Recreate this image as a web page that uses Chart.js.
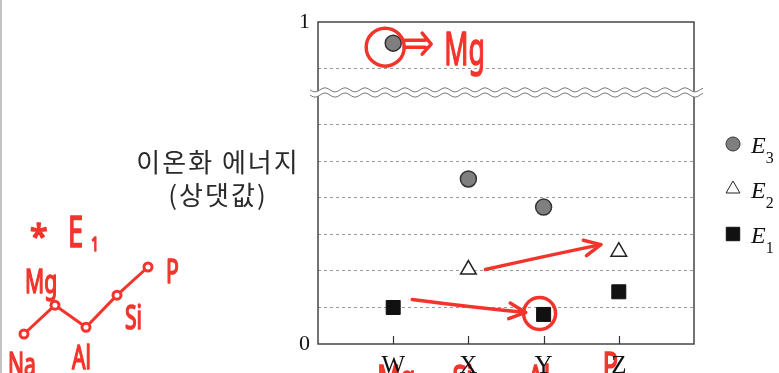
<!DOCTYPE html>
<html>
<head>
<meta charset="utf-8">
<script src="https://cdn.jsdelivr.net/npm/chart.js@4.4.1/dist/chart.umd.min.js"></script>
<style>
html, body { margin: 0; padding: 0; background: #fff; }
canvas { display: block; }
</style>
</head>
<body>
<canvas id="myChart" width="779" height="373"></canvas>
<script>
// values are read in grid steps (one dashed line = 1), the axis is broken near the top
const categories = ['W', 'X', 'Y', 'Z'];
const e3Values = [8.24, 4.52, 3.75, null];
const e2Values = [null, 2.04, null, 2.53];
const e1Values = [1.0, null, 0.81, 1.43];
const yTop = 8.82;
const gridValues = [1, 2, 3, 4, 5, 6, 7.56];
const breakValue = 6.89;
const yTitle = ['이온화 에너지', '(상댓값)'];
const legendSubs = ['3', '2', '1'];

// red pen notes on the page
const noteNames = ['Mg', 'Si', 'Al', 'P'];
const sketchNames = ['Na', 'Mg', 'Al', 'Si', 'P'];
const sketchLevels = [0, 0.43, 0.1, 0.58, 1];

const red = '#f2352c';
const serif = '"Liberation Serif", "Times New Roman", serif';
const hand = '"Noto Sans", sans-serif';

function toPoints(values) {
    return values.map((v, i) => v == null ? null : { x: i + 1, y: v }).filter(Boolean);
}

function wavePath(x0, x1, yc, reverse) {
    const pts = [];
    for (let px = x0; px <= x1; px += 1) {
        pts.push([px, yc + 2 * Math.sin((px - x0) / 20 * 2 * Math.PI)]);
    }
    if (reverse) pts.reverse();
    return pts;
}

function arrow(ctx, x1, y1, x2, y2, cx, cy) {
    ctx.beginPath();
    ctx.moveTo(x1, y1);
    ctx.quadraticCurveTo(cx, cy, x2, y2);
    ctx.stroke();
    const a = Math.atan2(y2 - cy, x2 - cx);
    ctx.beginPath();
    ctx.moveTo(x2 - 18 * Math.cos(a - 0.45), y2 - 18 * Math.sin(a - 0.45));
    ctx.lineTo(x2, y2);
    ctx.lineTo(x2 - 18 * Math.cos(a + 0.45), y2 - 18 * Math.sin(a + 0.45));
    ctx.stroke();
}

function handText(ctx, text, x, y, size, squeeze) {
    ctx.save();
    ctx.translate(x, y);
    ctx.scale(squeeze, 1);
    ctx.font = size + 'px ' + hand;
    ctx.fillStyle = red;
    ctx.strokeStyle = red;
    ctx.lineWidth = 1.6;
    ctx.textAlign = 'left';
    ctx.textBaseline = 'alphabetic';
    ctx.fillText(text, 0, 0);
    ctx.strokeText(text, 0, 0);
    ctx.restore();
}

const pageNotes = {
    id: 'pageNotes',
    beforeDraw(chart) {
        // names written under the letters, behind the black tick labels
        const { ctx, chartArea } = chart;
        const xs = chart.scales.x;
        ctx.save();
        noteNames.forEach((n, i) => {
            const px = xs.getPixelForValue(i + 1);
            const base = i === 3 ? chartArea.bottom + 34 : chartArea.bottom + 47;
            handText(ctx, n, px - 16, base, 36, 0.7);
        });
        ctx.restore();
    },
    afterDraw(chart) {
        const { ctx, chartArea } = chart;
        const { left, right, top, bottom } = chartArea;
        const xs = chart.scales.x;
        const ys = chart.scales.y;
        ctx.save();

        // thin grey edge of the scanned page
        ctx.fillStyle = '#c4c4c4';
        ctx.fillRect(0, 0, 2, chart.height);

        // frame
        ctx.strokeStyle = '#454545';
        ctx.lineWidth = 1.5;
        ctx.strokeRect(left, top, right - left, bottom - top);

        // inward tick marks
        ctx.lineWidth = 1.2;
        ctx.strokeStyle = '#333';
        categories.forEach((c, i) => {
            const px = Math.round(xs.getPixelForValue(i + 1)) + 0.5;
            ctx.beginPath();
            ctx.moveTo(px, bottom);
            ctx.lineTo(px, bottom - 8);
            ctx.stroke();
        });

        // axis break
        const yb = ys.getPixelForValue(breakValue);
        const upper = wavePath(left - 8, right + 9, yb - 2.6, false);
        const lower = wavePath(left - 8, right + 9, yb + 2.6, true);
        ctx.fillStyle = '#fff';
        ctx.beginPath();
        upper.concat(lower).forEach((p, i) => i ? ctx.lineTo(p[0], p[1]) : ctx.moveTo(p[0], p[1]));
        ctx.closePath();
        ctx.fill();
        ctx.strokeStyle = '#7a7a7a';
        ctx.lineWidth = 1;
        [upper, lower].forEach(line => {
            ctx.beginPath();
            line.forEach((p, i) => i ? ctx.lineTo(p[0], p[1]) : ctx.moveTo(p[0], p[1]));
            ctx.stroke();
        });

        // y title
        ctx.fillStyle = '#2a2a2a';
        ctx.font = '26px "Noto Sans CJK KR", sans-serif';
        ctx.letterSpacing = '2px';
        ctx.textAlign = 'center';
        ctx.textBaseline = 'middle';
        yTitle.forEach((t, i) => ctx.fillText(t, left - 100, top + 140 + i * 33));
        ctx.letterSpacing = '0px';

        // legend
        const styles = [
            { pointStyle: 'circle', radius: 7, fill: '#7f7f7f', stroke: '#333' },
            { pointStyle: 'triangle', radius: 8, fill: '#fff', stroke: '#222' },
            { pointStyle: 'rect', radius: 9.5, fill: '#111', stroke: '#111' }
        ];
        styles.forEach((s, i) => {
            const ly = top + 122 + i * 45;
            const lx = right + 39;
            ctx.fillStyle = s.fill;
            ctx.strokeStyle = s.stroke;
            Chart.helpers.drawPoint(ctx, { pointStyle: s.pointStyle, radius: s.radius, rotation: 0, borderWidth: 1.3 }, lx, ly);
            ctx.fillStyle = '#111';
            ctx.textAlign = 'left';
            ctx.textBaseline = 'alphabetic';
            ctx.font = 'italic 24px ' + serif;
            ctx.fillText('E', lx + 18, ly + 9);
            const w = ctx.measureText('E').width;
            ctx.font = '16px ' + serif;
            ctx.fillText(legendSubs[i], lx + 18 + w, ly + 19);
        });

        // red pen
        ctx.strokeStyle = red;
        ctx.lineWidth = 3.5;
        ctx.lineCap = 'round';
        ctx.lineJoin = 'round';

        const pW3 = [xs.getPixelForValue(1), ys.getPixelForValue(e3Values[0])];
        ctx.beginPath();
        ctx.arc(pW3[0] - 8, pW3[1] + 4, 19, 0, Math.PI * 2);
        ctx.stroke();
        ctx.beginPath();
        ctx.moveTo(pW3[0] + 11, pW3[1] - 3); ctx.lineTo(pW3[0] + 32, pW3[1] - 3);
        ctx.moveTo(pW3[0] + 11, pW3[1] + 4); ctx.lineTo(pW3[0] + 32, pW3[1] + 4);
        ctx.moveTo(pW3[0] + 29, pW3[1] - 10); ctx.lineTo(pW3[0] + 38, pW3[1] + 1); ctx.lineTo(pW3[0] + 29, pW3[1] + 11);
        ctx.stroke();
        handText(ctx, 'Mg', pW3[0] + 51, pW3[1] + 22, 46, 0.58);

        const pW1 = [xs.getPixelForValue(1), ys.getPixelForValue(e1Values[0])];
        const pY1 = [xs.getPixelForValue(3), ys.getPixelForValue(e1Values[2])];
        arrow(ctx, pW1[0] + 19, pW1[1] - 8, pY1[0] - 18, pY1[1] - 2, pW1[0] + 80, pW1[1]);
        ctx.beginPath();
        ctx.arc(pY1[0] - 4, pY1[1] - 1, 16, 0, Math.PI * 2);
        ctx.stroke();

        const pX2 = [xs.getPixelForValue(2), ys.getPixelForValue(e2Values[1])];
        const pZ2 = [xs.getPixelForValue(4), ys.getPixelForValue(e2Values[3])];
        arrow(ctx, pX2[0] + 17, pX2[1], pZ2[0] - 18, pZ2[1] - 7, pX2[0] + 70, pX2[1] - 12);

        // side sketch of E1 trend
        handText(ctx, '*', 30, 248, 32, 1);
        handText(ctx, 'E', 68, 247, 44, 0.62);
        handText(ctx, '1', 91, 251, 20, 0.7);
        const sx = i => 24 + i * 31;
        const sy = i => 334 - sketchLevels[i] * 67;
        ctx.beginPath();
        sketchNames.forEach((n, i) => i ? ctx.lineTo(sx(i), sy(i)) : ctx.moveTo(sx(i), sy(i)));
        ctx.lineWidth = 3;
        ctx.stroke();
        sketchNames.forEach((n, i) => {
            ctx.beginPath();
            ctx.arc(sx(i), sy(i), 4, 0, Math.PI * 2);
            ctx.fillStyle = '#fff';
            ctx.fill();
            ctx.stroke();
        });
        const labelAt = [[-16, 42], [-30, -12], [-14, 42], [8, 34], [18, 16]];
        sketchNames.forEach((n, i) => {
            handText(ctx, n, sx(i) + labelAt[i][0], sy(i) + labelAt[i][1], 32, 0.66);
        });

        ctx.restore();
    }
};

const ctx = document.getElementById('myChart');

const ionChart = new Chart(ctx, {
    type: 'scatter',
    data: {
        datasets: [{
            label: 'E3',
            data: toPoints(e3Values),
            pointStyle: 'circle',
            pointRadius: 8,
            backgroundColor: '#7f7f7f',
            borderColor: '#333',
            borderWidth: 1.5
        }, {
            label: 'E2',
            data: toPoints(e2Values),
            pointStyle: 'triangle',
            pointRadius: 9,
            backgroundColor: '#fff',
            borderColor: '#222',
            borderWidth: 1.5
        }, {
            label: 'E1',
            data: toPoints(e1Values),
            pointStyle: 'rect',
            pointRadius: 9.9,
            backgroundColor: '#111',
            borderColor: '#111',
            borderWidth: 1
        }]
    },
    options: {
        responsive: false,
        animation: false,
        layout: {
            padding: { left: 288, right: 85, top: 22, bottom: 0 }
        },
        plugins: {
            legend: { display: false },
            tooltip: { enabled: false }
        },
        scales: {
            x: {
                type: 'linear',
                min: 0,
                max: 5,
                afterBuildTicks: (scale) => {
                    scale.ticks = categories.map((c, i) => ({ value: i + 1 }));
                },
                afterFit: (scale) => { scale.height = 29; },
                grid: { display: false },
                border: { display: false },
                ticks: {
                    callback: (v) => categories[v - 1] || '',
                    font: { family: serif, size: 25 },
                    color: '#111',
                    padding: -1,
                    maxRotation: 0
                }
            },
            y: {
                min: 0,
                max: yTop,
                afterBuildTicks: (scale) => {
                    scale.ticks = [0, ...gridValues, yTop].map(v => ({ value: v }));
                },
                afterFit: (scale) => { scale.width = 30; },
                grid: {
                    drawTicks: false,
                    lineWidth: 1,
                    color: (c) => (c.tick && gridValues.includes(c.tick.value)) ? '#9a9a9a' : 'rgba(0,0,0,0)'
                },
                border: { display: false, dash: [3, 3] },
                ticks: {
                    callback: (v) => v === 0 ? '0' : (v === yTop ? '1' : ''),
                    font: { family: serif, size: 22 },
                    color: '#111',
                    padding: 8
                }
            }
        }
    },
    plugins: [pageNotes]
});
</script>
</body>
</html>
